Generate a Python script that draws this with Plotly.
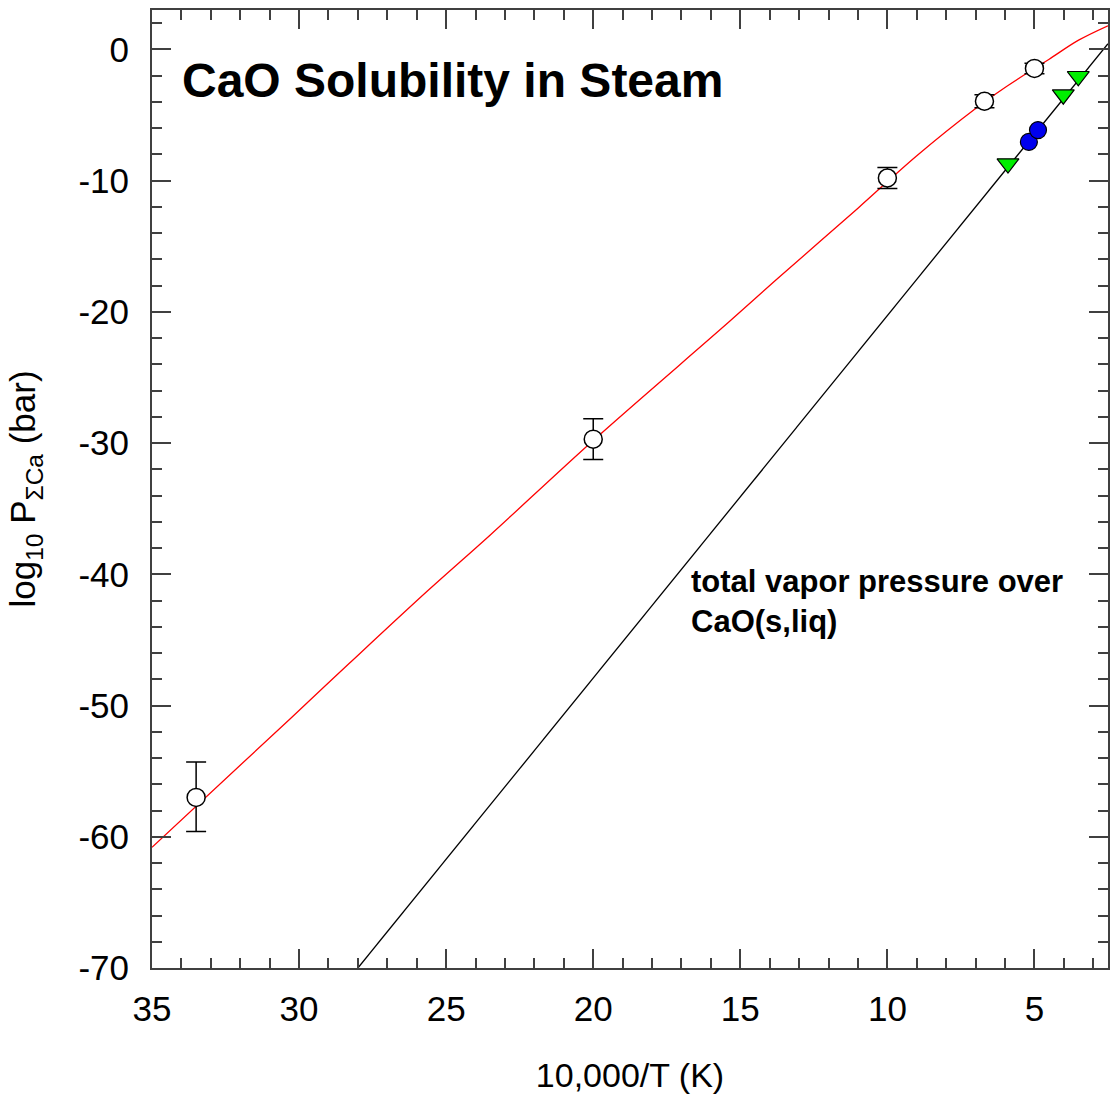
import plotly.graph_objects as go

# Experimental CaO solubility in steam (open circles with error bars)
exp_x = [33.5, 20.0, 10.0, 6.7, 5.0]
exp_y = [-57.0, -29.7, -9.8, -3.95, -1.45]
exp_err_plus = [2.7, 1.55, 0.8, 0.5, 0.4]
exp_err_minus = [2.6, 1.55, 0.8, 0.5, 0.4]

# Fitted curve (red)
fit_x = [35.0, 30.3, 28.3, 25.6, 23.5, 20.0, 15.4, 13.8, 11.0, 9.0, 7.0, 6.0, 5.0, 4.5, 3.5, 2.5]
fit_y = [-60.8, -51.0, -46.8, -41.2, -37.0, -29.8, -20.8, -17.6, -12.1, -8.1, -4.5, -2.9, -1.45, -0.75, 0.7, 1.8]

# Total vapor pressure over CaO(s,liq) (black line)
vap_x = [28.0, 2.5]
vap_y = [-70.0, 0.43]

# Vapor pressure data (blue circles)
blue_x = [5.19, 4.88]
blue_y = [-7.05, -6.15]

# Vapor pressure data (green triangles)
green_x = [5.9, 4.02, 3.51]
green_y = [-8.7, -3.45, -2.05]

# Tick labels
x_tickvals = [35, 30, 25, 20, 15, 10, 5]
x_ticktext = ["35", "30", "25", "20", "15", "10", "5"]
y_tickvals = [0, -10, -20, -30, -40, -50, -60, -70]
y_ticktext = ["0", "-10", "-20", "-30", "-40", "-50", "-60", "-70"]

FONT = "Liberation Sans, Arial"

fig = go.Figure()
fig.add_trace(go.Scatter(x=vap_x, y=vap_y, mode="lines",
                         line=dict(color="black", width=1.3), showlegend=False))
fig.add_trace(go.Scatter(x=fit_x, y=fit_y, mode="lines",
                         line=dict(color="#ff0000", width=1.3, shape="spline"), showlegend=False))
fig.add_trace(go.Scatter(x=exp_x, y=exp_y, mode="markers",
                         marker=dict(symbol="circle", size=18, color="white",
                                     line=dict(color="black", width=1.5)),
                         error_y=dict(type="data", symmetric=False, array=exp_err_plus,
                                      arrayminus=exp_err_minus, color="black",
                                      thickness=1.5, width=10),
                         showlegend=False))
fig.add_trace(go.Scatter(x=blue_x, y=blue_y, mode="markers",
                         marker=dict(symbol="circle", size=17, color="#0000ee",
                                     line=dict(color="black", width=1.2)),
                         showlegend=False))
fig.add_trace(go.Scatter(x=green_x, y=green_y, mode="markers",
                         marker=dict(symbol="triangle-down", size=19, color="#00ee00",
                                     line=dict(color="black", width=1.2)),
                         showlegend=False))

axis_common = dict(
    showline=True, linecolor="#404040", linewidth=2, mirror="ticks",
    ticks="inside", ticklen=19, tickwidth=1.5, tickcolor="#404040",
    showgrid=False, zeroline=False,
    tickfont=dict(family=FONT, size=35, color="black"),
)

fig.update_xaxes(range=[35, 2.5], tickmode="array", tickvals=x_tickvals, ticktext=x_ticktext,
                 ticklabelstandoff=9,
                 minor=dict(dtick=1, tick0=35, ticks="inside", ticklen=10, tickwidth=1.5, tickcolor="#404040"),
                 title=dict(text="10,000/T (K)", font=dict(family=FONT, size=34, color="black"),
                            standoff=36),
                 **axis_common)
fig.update_yaxes(range=[-70, 3], tickmode="array", tickvals=y_tickvals, ticktext=y_ticktext,
                 ticklabelstandoff=14,
                 minor=dict(dtick=2, tick0=0, ticks="inside", ticklen=10, tickwidth=1.5, tickcolor="#404040"),
                 title=dict(text="log<sub>10</sub> P<sub>ΣCa</sub> (bar)",
                            font=dict(family=FONT, size=35, color="black"),
                            standoff=32),
                 **axis_common)

fig.add_annotation(x=34.05, y=-2.4, xref="x", yref="y", xanchor="left", yanchor="middle",
                   text="<b>CaO Solubility in Steam</b>", showarrow=False,
                   font=dict(family=FONT, size=48, color="black"))
fig.add_annotation(x=16.76, y=-42.1, xref="x", yref="y", xanchor="left", yanchor="middle",
                   align="left",
                   text="<b>total vapor pressure over<br>CaO(s,liq)</b>", showarrow=False,
                   font=dict(family=FONT, size=31, color="black"))

fig.update_layout(width=1111, height=1095, plot_bgcolor="white", paper_bgcolor="white",
                  margin=dict(l=152, r=1, t=10, b=127))

fig.write_html("out.html", config={"displayModeBar": False},
               post_script="document.body.style.margin='0';document.body.style.overflow='hidden';")
